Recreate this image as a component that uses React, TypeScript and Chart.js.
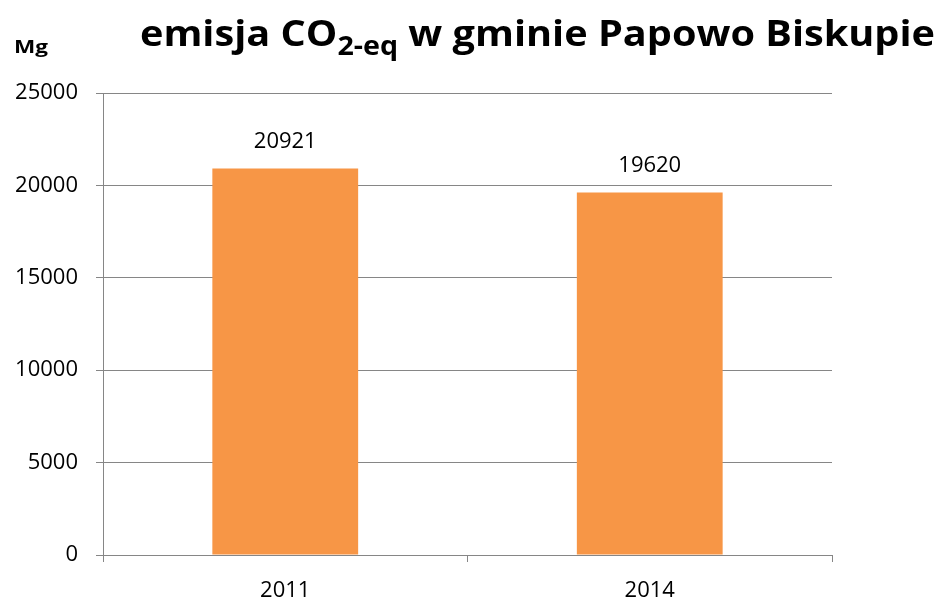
import React, { useEffect, useRef } from "react";
import { Chart, registerables } from "chart.js";

Chart.register(...registerables);

const categories = ["2011", "2014"];
const values = [20921, 19620];
const yTicks = [0, 5000, 10000, 15000, 20000, 25000];
const titleMain = "emisja CO";
const titleSub = "2-eq";
const titleRest = " w gminie Papowo Biskupie";
const unitLabel = "Mg";

const GRID = "#868686";
const BAR = "#F79646";
const FONT = "'Open Sans', 'DejaVu Sans', sans-serif";

const overlayPlugin = {
  id: "overlay",
  afterDraw(chart: any) {
    const ctx = chart.ctx as CanvasRenderingContext2D;
    // data labels
    const meta = chart.getDatasetMeta(0);
    ctx.save();
    ctx.fillStyle = "#000";
    ctx.font = `22px ${FONT}`;
    ctx.textAlign = "center";
    ctx.textBaseline = "middle";
    meta.data.forEach((el: any, i: number) => {
      ctx.fillText(String(values[i]), el.x, el.y - 27);
    });
    ctx.restore();

    // title with subscript
    ctx.save();
    const mainFont = `bold 36px ${FONT}`;
    const subFont = `bold 26px ${FONT}`;
    ctx.font = mainFont;
    const w1 = ctx.measureText(titleMain).width;
    const w3 = ctx.measureText(titleRest).width;
    ctx.font = subFont;
    const w2 = ctx.measureText(titleSub).width;
    const total = w1 + w2 + w3;
    const targetW = 795;
    const sx = targetW / total;
    ctx.translate(140, 0);
    ctx.scale(sx, 1);
    ctx.fillStyle = "#000";
    ctx.textBaseline = "alphabetic";
    ctx.textAlign = "left";
    ctx.font = mainFont;
    ctx.fillText(titleMain, 0, 46);
    ctx.font = subFont;
    ctx.fillText(titleSub, w1, 55);
    ctx.font = mainFont;
    ctx.fillText(titleRest, w1 + w2, 46);
    ctx.restore();

    // unit label
    ctx.save();
    ctx.font = `bold 18px ${FONT}`;
    ctx.fillStyle = "#000";
    ctx.textBaseline = "alphabetic";
    ctx.textAlign = "left";
    const mw = ctx.measureText(unitLabel).width;
    ctx.translate(14, 0);
    ctx.scale(34 / mw, 1);
    ctx.fillText(unitLabel, 0, 53);
    ctx.restore();
  },
};

export default function App() {
  const ref = useRef<HTMLCanvasElement>(null);
  useEffect(() => {
    if (!ref.current) return;
    const chart = new Chart(ref.current, {
      type: "bar",
      data: {
        labels: categories,
        datasets: [
          {
            data: values,
            backgroundColor: BAR,
            borderWidth: 0,
            barPercentage: 0.4,
            categoryPercentage: 1,
          },
        ],
      },
      options: {
        responsive: false,
        animation: false,
        devicePixelRatio: 1,
        layout: { padding: { left: 0, right: 110, top: 93, bottom: 0 } },
        plugins: {
          legend: { display: false },
          title: { display: false },
          tooltip: { enabled: false },
        },
        scales: {
          x: {
            grid: {
              display: true,
              drawOnChartArea: false,
              drawTicks: true,
              tickLength: 7,
              color: GRID,
              offset: true,
            },
            border: { display: true, color: GRID, width: 1 },
            ticks: {
              color: "#000",
              font: { size: 22, family: FONT },
              padding: 16,
            },
            afterFit: (s: any) => {
              s.height = 46;
            },
          },
          y: {
            min: 0,
            max: 25000,
            afterBuildTicks: (s: any) => {
              s.ticks = yTicks.map((v) => ({ value: v }));
            },
            grid: {
              color: GRID,
              lineWidth: 1,
              tickLength: 7,
              drawTicks: true,
            },
            border: { display: true, color: GRID, width: 1 },
            ticks: {
              color: "#000",
              font: { size: 22, family: FONT },
              padding: 18,
              callback: (v: any) => String(v),
            },
            afterFit: (s: any) => {
              s.width = 103;
            },
          },
        },
      },
      plugins: [overlayPlugin],
    });
    return () => chart.destroy();
  }, []);
  return (
    <div style={{ position: "absolute", left: 0, top: 0, width: 942, height: 601, background: "#fff" }}>
      <canvas ref={ref} width={942} height={601} />
    </div>
  );
}
